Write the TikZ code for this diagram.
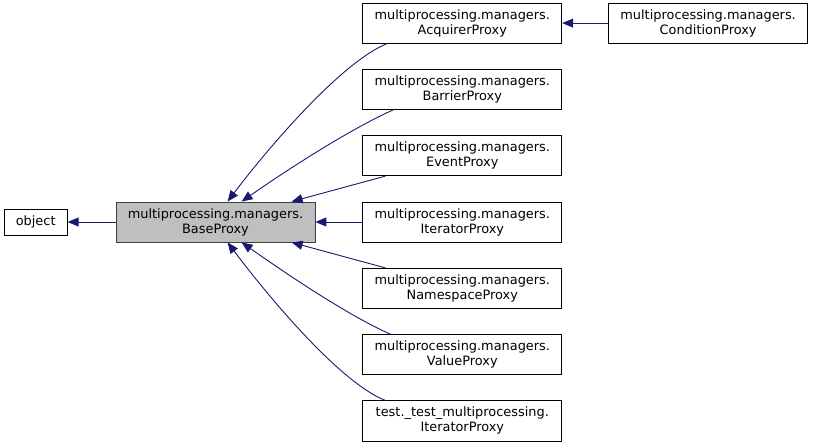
\documentclass[tikz,border=0pt]{standalone}
\usepackage{fontspec}
\setmainfont{DejaVu Sans}
\usetikzlibrary{arrows.meta,positioning}
\definecolor{midnight}{HTML}{191970}

\begin{document}
\begin{tikzpicture}[
  x=1pt, y=1pt,
  node distance=25.5pt and 48pt,
  cls/.style = {draw=black, line width=0.8pt, fill=white, align=center,
    inner sep=0pt, font=\fontsize{12.9}{15}\selectfont,
    minimum width=199pt, minimum height=40pt},
  cur/.style = {cls, fill=black!25, draw=black!75},
  inh/.style = {-{Triangle[length=11pt,width=9pt]}, draw=midnight, line width=0.9pt},
]
\useasboundingbox (0,0) rectangle (813,444);
\node[cur] (base) at (215.5,222) {multiprocessing.managers.\\BaseProxy};
\node[cls, minimum width=63pt, minimum height=26pt, left=48pt of base] (obj) {object};
\node[cls, right=47pt of base] (iter) {multiprocessing.managers.\\IteratorProxy};
\node[cls, above=of iter] (event) {multiprocessing.managers.\\EventProxy};
\node[cls, above=of event] (barrier) {multiprocessing.managers.\\BarrierProxy};
\node[cls, above=of barrier] (acq) {multiprocessing.managers.\\AcquirerProxy};
\node[cls, right=46pt of acq] (cond) {multiprocessing.managers.\\ConditionProxy};
\node[cls, below=of iter] (ns) {multiprocessing.managers.\\NamespaceProxy};
\node[cls, below=of ns] (val) {multiprocessing.managers.\\ValueProxy};
\node[cls, below=of val] (tst) {test.\_test\_multiprocessing.\\IteratorProxy};

% inheritance edges
\draw[inh] (base) -- (obj);
\draw[inh] (cond) -- (acq);
\draw[inh] (iter) -- (base);
\draw[inh] ([xshift=25pt]acq.south west) .. controls +(-50,-20) and +(30,40) .. ([xshift=112pt]base.north west);
\draw[inh] ([xshift=31pt]barrier.south west) .. controls +(-45,-20) and +(40,28) .. ([xshift=126pt]base.north west);
\draw[inh] ([xshift=23pt]event.south west) -- ([xshift=176pt]base.north west);
\draw[inh] ([xshift=23pt]ns.north west) -- ([xshift=176pt]base.south west);
\draw[inh] ([xshift=28pt]val.north west) .. controls +(-45,20) and +(40,-28) .. ([xshift=126pt]base.south west);
\draw[inh] ([xshift=23pt]tst.north west) .. controls +(-50,20) and +(30,-40) .. ([xshift=112pt]base.south west);
\end{tikzpicture}
\end{document}
